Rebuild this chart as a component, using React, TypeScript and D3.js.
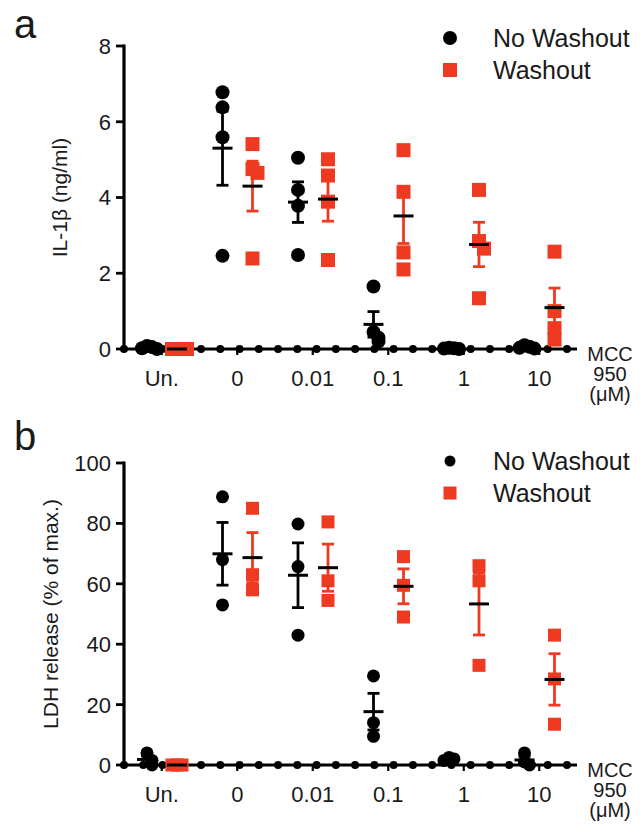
import React from "react";
import * as d3 from "d3";

const categories = ["Un.", "0", "0.01", "0.1", "1", "10"];
const seriesNames = ["No Washout", "Washout"];

// Panel a: IL-1β (ng/ml)
const il1bNoWashout = [
  [0.08, 0.05, 0.02, 0],
  [6.78, 6.38, 5.59, 2.46],
  [5.05, 4.2, 3.78, 2.48],
  [1.65, 0.45, 0.3, 0.2],
  [0.03, 0.02, 0.01, 0],
  [0.1, 0.06, 0.03, 0.01],
];
const il1bWashout = [
  [0, 0, 0, 0],
  [5.41, 4.75, 4.65, 2.39],
  [5.01, 4.58, 3.89, 2.35],
  [5.25, 4.15, 2.55, 2.1],
  [4.2, 2.85, 2.65, 1.34],
  [2.57, 1.0, 0.55, 0.25],
];
const il1bTicks = [0, 2, 4, 6, 8];

// Panel b: LDH release (% of max.)
const ldhNoWashout = [
  [4, 1.5, 0],
  [88.8, 68, 53],
  [79.8, 65.7, 43],
  [29.5, 14, 9.5],
  [2.5, 2, 1.5],
  [4, 1, 0],
];
const ldhWashout = [
  [0, 0, 0],
  [85, 63, 58],
  [80.5, 61, 54.5],
  [69, 59.5, 49],
  [66, 61, 33],
  [43, 28.5, 13.5],
];
const ldhTicks = [0, 20, 40, 60, 80, 100];

const RED = "#ef3a22";
const FONT = "'Liberation Sans', Arial, Helvetica, sans-serif";
const TXT = "#1a1a1a";

function jitter(vals: number[], y: (v: number) => number, size: number) {
  const placed: { py: number; off: number }[] = [];
  return vals.map((v) => {
    const py = y(v);
    const near = placed.filter((p) => Math.abs(p.py - py) < size * 0.6).length;
    const off = near === 0 ? 0 : (near % 2 === 1 ? 1 : -1) * Math.ceil(near / 2) * 5;
    placed.push({ py, off });
    return { v, py, off };
  });
}

function Panel({
  top,
  label,
  yLabel,
  yLabelX,
  domainMax,
  ticks,
  dataA,
  dataB,
  yTop,
  yBottom,
  r,
  sq,
  legendY,
  legendR,
  legendSq,
}: any) {
  const x = d3.scaleBand<string>().domain(categories).range([124, 577]);
  const xs = d3.scaleBand<string>().domain(seriesNames).range([8, 68]);
  const y = d3.scaleLinear().domain([0, domainMax]).range([yBottom, yTop]);
  const axisDots = d3.range(24).map((i) => 124 + (i * (567 - 124)) / 23);
  const series = [
    { name: seriesNames[0], data: dataA, color: "#000" },
    { name: seriesNames[1], data: dataB, color: RED },
  ];
  return (
    <g>
      <text x={14} y={top} fontSize={40} fontFamily={FONT} fill={TXT}>
        {label}
      </text>
      {/* y axis */}
      <line x1={124} x2={124} y1={y(domainMax) - 1.5} y2={y(0)} stroke="#000" strokeWidth={3.2} />
      {ticks.map((t: number) => (
        <g key={t}>
          <line x1={116} x2={124} y1={y(t)} y2={y(t)} stroke="#000" strokeWidth={2.8} />
          <text
            x={111}
            y={y(t)}
            dy="0.36em"
            textAnchor="end"
            fontSize={22}
            fontFamily={FONT}
            fill={TXT}
          >
            {t}
          </text>
        </g>
      ))}
      <text
        transform={`translate(${yLabelX},${(y(0) + y(domainMax)) / 2}) rotate(-90)`}
        textAnchor="middle"
        fontSize={21}
        fontFamily={FONT}
        fill={TXT}
      >
        {yLabel}
      </text>
      {/* x axis */}
      <line x1={124} x2={577} y1={y(0)} y2={y(0)} stroke="#000" strokeWidth={3.2} />
      {axisDots.map((d, i) => (
        <circle key={i} cx={d} cy={y(0)} r={4} fill="#000" />
      ))}
      {categories.map((c) => (
        <g key={c}>
          <line
            x1={(x(c) as number) + x.bandwidth() / 2}
            x2={(x(c) as number) + x.bandwidth() / 2}
            y1={y(0)}
            y2={y(0) + 6}
            stroke="#000"
            strokeWidth={2.2}
          />
          <text
            x={(x(c) as number) + x.bandwidth() / 2}
            y={y(0) + 37}
            textAnchor="middle"
            fontSize={22}
            fontFamily={FONT}
            fill={TXT}
          >
            {c}
          </text>
        </g>
      ))}
      <text textAnchor="middle" fontSize={20} fontFamily={FONT} fill={TXT}>
        <tspan x={610} y={y(0) + 12}>MCC</tspan>
        <tspan x={610} y={y(0) + 32}>950</tspan>
        <tspan x={610} y={y(0) + 52}>(μM)</tspan>
      </text>
      {/* points */}
      {series.map((s) =>
        categories.map((c, ci) => {
          const cx = (x(c) as number) + (xs(s.name) as number) + xs.bandwidth() / 2;
          const pts = jitter(s.data[ci], y, s.color === "#000" ? r * 2 : sq);
          return (
            <g key={s.name + c}>
              {pts.map((p, pi) =>
                s.color === "#000" ? (
                  <circle key={pi} cx={cx + p.off} cy={p.py} r={r} fill="#000" />
                ) : (
                  <rect
                    key={pi}
                    x={cx + p.off - sq / 2}
                    y={p.py - sq / 2}
                    width={sq}
                    height={sq}
                    fill={RED}
                  />
                )
              )}
            </g>
          );
        })
      )}
      {/* error bars */}
      {series.map((s) =>
        categories.map((c, ci) => {
          const cx = (x(c) as number) + (xs(s.name) as number) + xs.bandwidth() / 2;
          const vals = s.data[ci];
          const m = d3.mean(vals) as number;
          const sem = (d3.deviation(vals) || 0) / Math.sqrt(vals.length);
          return (
            <g key={"e" + s.name + c}>
              <line x1={cx} x2={cx} y1={y(m + sem)} y2={y(Math.max(0, m - sem))} stroke={s.color} strokeWidth={2.8} />
              <line x1={cx - 6} x2={cx + 6} y1={y(m + sem)} y2={y(m + sem)} stroke={s.color} strokeWidth={2.8} />
              <line x1={cx - 6} x2={cx + 6} y1={y(Math.max(0, m - sem))} y2={y(Math.max(0, m - sem))} stroke={s.color} strokeWidth={2.8} />
              <line x1={cx - 10} x2={cx + 10} y1={y(m)} y2={y(m)} stroke="#000" strokeWidth={3} />
            </g>
          );
        })
      )}
      {/* legend */}
      <circle cx={450} cy={legendY - 9} r={legendR} fill="#000" />
      <text x={493} y={legendY} fontSize={25} fontFamily={FONT} fill={TXT}>
        {seriesNames[0]}
      </text>
      <rect x={450 - legendSq / 2} y={legendY + 32 - 9 - legendSq / 2} width={legendSq} height={legendSq} fill={RED} />
      <text x={493} y={legendY + 32} fontSize={25} fontFamily={FONT} fill={TXT}>
        {seriesNames[1]}
      </text>
    </g>
  );
}

export default function App() {
  return (
    <svg
      width={640}
      height={827}
      style={{ position: "absolute", left: 0, top: 0, background: "#fff" }}
    >
      <rect width={640} height={827} fill="#fff" />
      <Panel
        top={38}
        label="a"
        yLabel="IL-1β (ng/ml)"
        yLabelX={67}
        domainMax={8}
        ticks={il1bTicks}
        dataA={il1bNoWashout}
        dataB={il1bWashout}
        yTop={46}
        yBottom={349}
        r={7}
        sq={14}
        legendY={47}
        legendR={7}
        legendSq={14}
      />
      <Panel
        top={450}
        label="b"
        yLabel="LDH release (% of max.)"
        yLabelX={58}
        domainMax={100}
        ticks={ldhTicks}
        dataA={ldhNoWashout}
        dataB={ldhWashout}
        yTop={463}
        yBottom={765}
        r={6.5}
        sq={13}
        legendY={470}
        legendR={5.5}
        legendSq={13}
      />
    </svg>
  );
}
